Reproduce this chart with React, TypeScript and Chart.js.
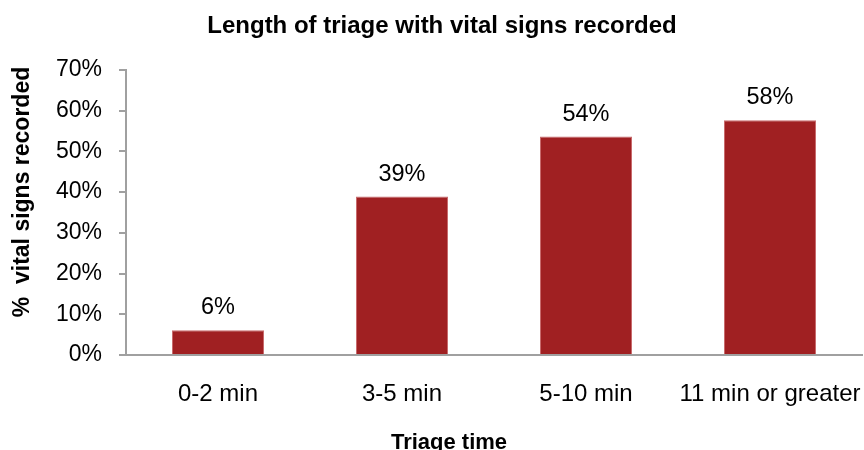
import React, { useEffect, useRef } from "react";
import { Chart, registerables } from "chart.js";

Chart.register(...registerables);

const chartTitle = "Length of triage with vital signs recorded";
const xAxisTitle = "Triage time";
const yAxisTitle = "%  vital signs recorded";
const categories = ["0-2 min", "3-5 min", "5-10 min", "11 min or greater"];
const percentRecorded = [6.1, 38.9, 53.6, 57.6];
const valueLabels = ["6%", "39%", "54%", "58%"];
const yTickStep = 10;
const yMax = 70;

const FONT = "'Liberation Sans', Arial, sans-serif";
const BAR_COLOR = "#A02022";
const AXIS_COLOR = "#A0A0A0";

const valueLabelPlugin = {
  id: "valueLabels",
  afterDatasetsDraw(chart: any) {
    const ctx = chart.ctx;
    const meta = chart.getDatasetMeta(0);
    ctx.save();
    ctx.font = `23.5px ${FONT}`;
    ctx.fillStyle = "#000";
    ctx.textAlign = "center";
    ctx.textBaseline = "alphabetic";
    meta.data.forEach((bar: any, i: number) => {
      ctx.fillText(valueLabels[i], bar.x, bar.y - 16);
    });
    ctx.restore();
  },
};

const axisTitlePlugin = {
  id: "axisTitles",
  afterDraw(chart: any) {
    const ctx = chart.ctx;
    ctx.save();
    ctx.fillStyle = "#000";
    ctx.textAlign = "center";
    ctx.textBaseline = "middle";
    ctx.font = `bold 22px ${FONT}`;
    ctx.fillText(xAxisTitle, 449, 443);
    ctx.font = `bold 23px ${FONT}`;
    ctx.translate(23, 192);
    ctx.rotate(-Math.PI / 2);
    ctx.fillText(yAxisTitle, 0, 0);
    ctx.restore();
  },
};

export default function App() {
  const canvasRef = useRef<HTMLCanvasElement | null>(null);

  useEffect(() => {
    if (!canvasRef.current) return;
    const chart = new Chart(canvasRef.current, {
      type: "bar",
      data: {
        labels: categories,
        datasets: [
          {
            data: percentRecorded,
            backgroundColor: BAR_COLOR,
            borderColor: "#C86A6C",
            borderWidth: 1,
            barPercentage: 0.5,
            categoryPercentage: 1,
          },
        ],
      },
      options: {
        animation: false,
        responsive: true,
        maintainAspectRatio: false,
        layout: { padding: { top: 0, left: 22, right: 2, bottom: 0 } },
        plugins: {
          legend: { display: false },
          tooltip: { enabled: false },
          title: {
            display: true,
            text: chartTitle,
            color: "#000",
            font: { family: FONT, size: 24, weight: "bold" },
            padding: { top: 12, bottom: 29 },
          },
        },
        scales: {
          x: {
            grid: { display: false },
            border: { display: true, color: AXIS_COLOR, width: 2 },
            ticks: {
              color: "#000",
              font: { family: FONT, size: 24 },
              padding: 17,
              maxRotation: 0,
              autoSkip: false,
            },
            afterFit(scale: any) {
              scale.height = 95;
              scale.paddingLeft = 0;
              scale.paddingRight = 0;
            },
          },
          y: {
            min: 0,
            max: yMax,
            grid: {
              drawOnChartArea: false,
              drawTicks: true,
              tickLength: 7,
              color: AXIS_COLOR,
              lineWidth: 2,
            },
            border: { display: true, color: AXIS_COLOR, width: 2 },
            ticks: {
              stepSize: yTickStep,
              color: "#000",
              font: { family: FONT, size: 23 },
              padding: 17,
              callback: (v: any) => `${v}%`,
            },
            afterFit(scale: any) {
              scale.width = 104;
            },
          },
        },
      },
      plugins: [valueLabelPlugin, axisTitlePlugin],
    });
    return () => chart.destroy();
  }, []);

  return (
    <div style={{ position: "absolute", left: 0, top: 0, width: 864, height: 450, background: "#fff" }}>
      <canvas ref={canvasRef} />
    </div>
  );
}
